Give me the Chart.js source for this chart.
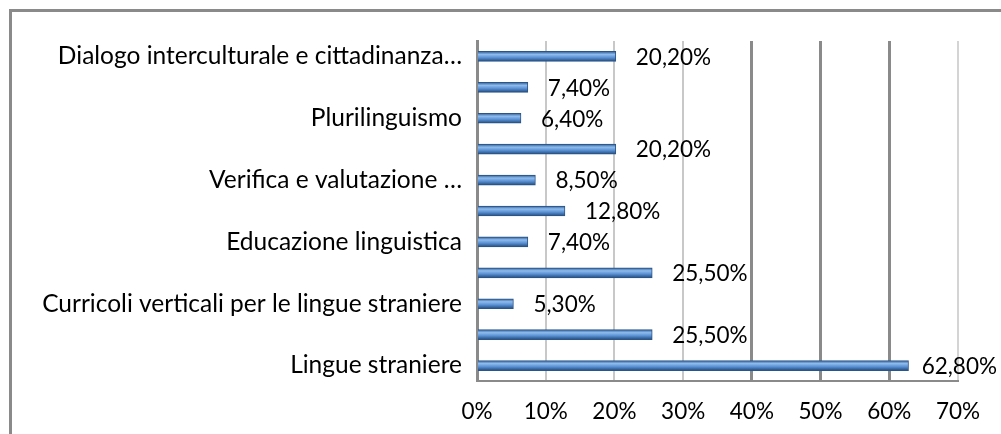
<!DOCTYPE html>
<html>
<head>
<meta charset="utf-8">
<script src="https://cdn.jsdelivr.net/npm/chart.js@4/dist/chart.umd.min.js"></script>
<style>
   html, body { margin: 0; padding: 0; background: #fff; }
   #wrap { position: relative; width: 1001px; height: 434px; overflow: hidden; }
   #frame { position: absolute; left: 9px; top: 9px; width: 1200px; height: 600px; border-left: 3px solid #8a8a8a; border-top: 3px solid #8a8a8a; }
   canvas { position: absolute; left: 0; top: 0; }
</style>
</head>
<body>
<div id="wrap">
   <div id="frame"></div>
   <canvas id="barChart" width="1001" height="434"></canvas>
</div>
<script>
// categories top to bottom (Excel only shows every second label)
const categories = [
   'Dialogo interculturale e cittadinanza…',
   '',
   'Plurilinguismo',
   '',
   'Verifica e valutazione …',
   '',
   'Educazione linguistica',
   '',
   'Curricoli verticali per le lingue straniere',
   '',
   'Lingue straniere'
];
const percentages = [20.2, 7.4, 6.4, 20.2, 8.5, 12.8, 7.4, 25.5, 5.3, 25.5, 62.8];
const xTicks = [0, 10, 20, 30, 40, 50, 60, 70];

const labelFont = { family: 'Lato, "Open Sans", sans-serif', size: 24.5 };
// Lato digits are wider than the original's, so numbers get a slightly smaller size
const numberFont = { family: 'Lato, "Open Sans", sans-serif', size: 22.5 };

function fmt(v){
   return v.toFixed(2).replace('.', ',') + '%';
}

// value labels at the end of each bar
const valueLabels = {
   id: 'valueLabels',
   afterDatasetsDraw(chart){
      const ctx = chart.ctx;
      const meta = chart.getDatasetMeta(0);
      ctx.save();
      ctx.font = numberFont.size + 'px ' + numberFont.family;
      ctx.fillStyle = '#000';
      ctx.textBaseline = 'middle';
      ctx.textAlign = 'left';
      meta.data.forEach((bar, i) => {
         const txt = fmt(percentages[i]);
         const w = ctx.measureText(txt).width;
         const x = Math.min(bar.x + 20, chart.width - 4 - w);
         ctx.fillText(txt, x, bar.y + 1);
      });
      ctx.restore();
   }
};

function barFill(context){
   const chart = context.chart;
   const y = chart.scales.y;
   if(!y || context.dataIndex === undefined) return '#4f86c9';
   const yc = y.getPixelForValue(context.dataIndex);
   if(!isFinite(yc)) return '#4f86c9';
   const g = chart.ctx.createLinearGradient(0, yc - 5, 0, yc + 5);
   g.addColorStop(0, '#2d5d98');
   g.addColorStop(0.3, '#8fbbec');
   g.addColorStop(0.6, '#5b93d6');
   g.addColorStop(1, '#234a7c');
   return g;
}

const ctxE = document.getElementById('barChart').getContext('2d');
const barChart = new Chart(ctxE, {
   type: 'bar',
   data: {
      labels: categories,
      datasets: [{
         data: percentages,
         backgroundColor: barFill,
         borderColor: '#2b5487',
         borderWidth: 1,
         barThickness: 10
      }]
   },
   plugins: [valueLabels],
   options: {
      indexAxis: 'y',
      responsive: false,
      animation: false,
      layout: { padding: { top: 41, right: 43, bottom: 0, left: 0 } },
      plugins: {
         legend: { display: false },
         tooltip: { enabled: false }
      },
      scales: {
         x: {
            min: 0,
            max: 70,
            afterBuildTicks: (scale) => { scale.ticks = xTicks.map(v => ({ value: v })); },
            ticks: {
               color: '#000',
               font: numberFont,
               padding: 17,
               callback: (v) => v + '%'
            },
            grid: {
               drawTicks: false,
               color: (c) => {
                  const v = c.tick ? c.tick.value : 0;
                  if(v >= 40 && v <= 60) return '#8a8a8a';
                  if(v == 70) return '#d4d4d4';
                  return '#c8c8c8';
               },
               lineWidth: (c) => {
                  const v = c.tick ? c.tick.value : 0;
                  return (v >= 40 && v <= 60) ? 3 : 2;
               }
            },
            border: { color: '#8a8a8a', width: 2 },
            afterFit: (scale) => { scale.height = 53; }
         },
         y: {
            ticks: {
               color: '#000',
               font: labelFont,
               padding: 15,
               autoSkip: false
            },
            grid: { display: false, drawTicks: false },
            border: { color: '#8a8a8a', width: 3 },
            afterFit: (scale) => { scale.width = 477; }
         }
      }
   }
});
</script>
</body>
</html>
